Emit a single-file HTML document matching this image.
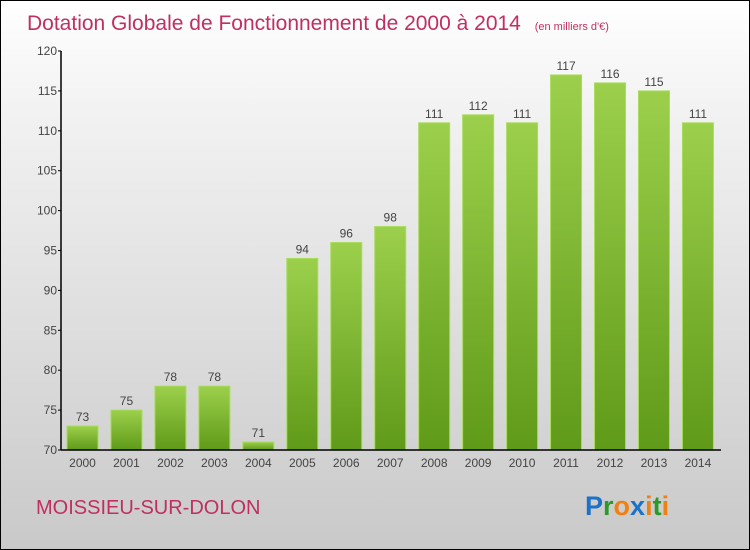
<!DOCTYPE html>
<html><head><meta charset="utf-8"><style>
body{margin:0}
#c{position:relative;width:748px;height:548px;border:1px solid #000;background:linear-gradient(#fff,#f2f2f2 20%,#c9c9c9);font-family:"Liberation Sans",sans-serif;overflow:hidden}
</style></head><body>
<div id="c">
<svg id="s" width="748" height="548" xmlns="http://www.w3.org/2000/svg">
<defs><linearGradient id="g" x1="0" y1="0" x2="0" y2="1"><stop offset="0" stop-color="#9cd04c"/><stop offset="1" stop-color="#5f9a18"/></linearGradient></defs>
<text x="26" y="29" font-size="21" fill="#c0305f">Dotation Globale de Fonctionnement de 2000 à 2014 <tspan font-size="11" dx="8">(en milliers d'€)</tspan></text>
<text x="35" y="513" font-size="20" fill="#c0305f">MOISSIEU-SUR-DOLON</text>
<text x="584" y="514" font-size="27" font-weight="bold"><tspan fill="#1a73c8">P</tspan><tspan fill="#2a9a2a">r</tspan><tspan fill="#f08010">o</tspan><tspan fill="#1a73c8">x</tspan><tspan fill="#f08010">i</tspan><tspan fill="#2a9a2a">t</tspan><tspan fill="#f08010">i</tspan></text>
<g id="plot"></g>
</svg>
</div>
<script>
const years=["2000","2001","2002","2003","2004","2005","2006","2007","2008","2009","2010","2011","2012","2013","2014"];
const values=[73,75,78,78,71,94,96,98,111,112,111,117,116,115,111];
const yTicks=[70,75,80,85,90,95,100,105,110,115,120];
const NS="http://www.w3.org/2000/svg";
const g=document.getElementById('plot');
const y=v=>449-(v-70)*(399/50);
const x=i=>81.5+i*43.96;
function mk(t,a){const e=document.createElementNS(NS,t);for(const k in a)e.setAttribute(k,a[k]);g.appendChild(e);return e;}
values.forEach((v,i)=>{
 const r=mk('rect',{x:x(i)-15.5,y:y(v),width:31,height:y(70)-y(v),fill:'url(#g)',stroke:'#a8dc5c','stroke-width':1});
 
 
 const t=mk('text',{x:x(i),y:y(v)-5,'font-size':12,'text-anchor':'middle',fill:'#444'});t.textContent=v;
 
 
 const l=mk('text',{x:x(i),y:466,'font-size':12,'text-anchor':'middle',fill:'#444'});l.textContent=years[i];
 
 
});
yTicks.forEach(v=>{
 mk('line',{x1:57,x2:60,y1:y(v),y2:y(v),stroke:'#000'});
 const t=mk('text',{x:56,y:y(v)+4,'font-size':12,'text-anchor':'end',fill:'#444'});t.textContent=v;
 
 
});
const ya=mk('line',{x1:60,x2:60,y1:y(120),y2:y(70),stroke:'#000','stroke-width':1.5});


const xa=mk('line',{x1:60,x2:720,y1:y(70),y2:y(70),stroke:'#000','stroke-width':1.5});


</script>
</body></html>
